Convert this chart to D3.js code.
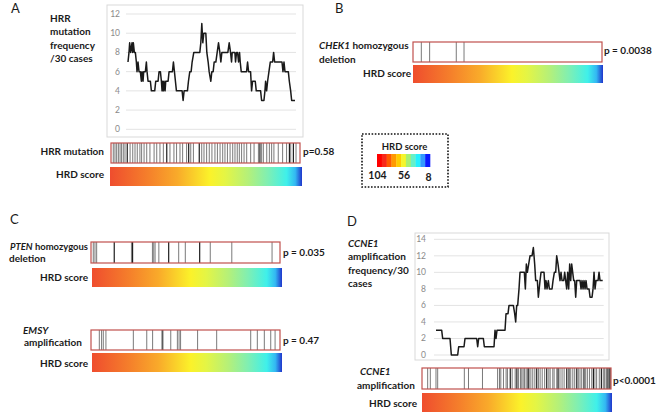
<!DOCTYPE html>
<html><head><meta charset="utf-8">
<script src="https://cdn.jsdelivr.net/npm/d3@7"></script>
<style>html,body{margin:0;padding:0;background:#fff}svg{display:block}text{font-family:Lato,"Open Sans",sans-serif}</style>
</head><body><svg id="c" width="658" height="415"></svg>
<script>
// ---------- DATA ----------
// rolling frequency per 30 cases, cases ranked by HRD score (rank 0..500 along axis)
const hrrFreq = [[0,7],[3,8],[5,9],[8,8],[12,9],[14,8],[16,9],[19,8],[22,8],[25,7],[27,6],[30,7],[33,6],[37,6],[40,5],[42,6],[45,5],[47,6],[52,6],[55,7],[57,6],[60,5],[67,5],[70,4],[80,4],[83,5],[90,5],[93,6],[97,6],[100,5],[102,4],[104,5],[106,4],[108,5],[111,4],[113,5],[120,5],[123,6],[133,6],[136,7],[139,6],[142,5],[145,4],[162,4],[165,3],[168,4],[178,4],[181,5],[185,6],[189,6],[192,7],[197,8],[215,8],[218,9],[221,11],[224,9],[227,10],[233,10],[236,8],[240,7],[243,6],[248,5],[251,6],[255,6],[258,7],[263,7],[267,8],[271,9],[275,8],[278,7],[281,8],[299,8],[303,9],[307,8],[310,7],[312,8],[320,8],[322,7],[325,8],[328,8],[331,7],[334,8],[336,7],[339,6],[355,6],[358,7],[361,6],[367,6],[370,4],[373,5],[381,5],[384,4],[397,4],[400,3],[407,3],[410,4],[412,5],[415,4],[418,5],[422,6],[426,7],[433,7],[436,8],[439,7],[461,7],[464,6],[467,7],[470,6],[480,6],[483,5],[487,4],[490,3],[500,3]];
const ccne1Freq = [[0,3],[17,3],[20,2],[42,2],[46,0],[65,0],[68,1],[84,1],[87,2],[122,2],[125,1],[128,2],[142,2],[145,1],[174,1],[177,3],[180,2],[183,3],[207,3],[210,5],[216,5],[219,6],[232,6],[236,5],[239,4],[242,6],[245,6],[249,8],[252,10],[265,10],[268,8],[271,11],[274,10],[278,11],[282,12],[288,12],[292,13],[296,11],[299,9],[304,9],[307,7],[312,9],[315,10],[324,10],[327,8],[330,9],[333,8],[337,9],[340,8],[348,8],[351,9],[355,10],[359,10],[362,12],[366,11],[369,10],[372,9],[375,10],[378,9],[383,9],[386,10],[389,9],[392,8],[395,10],[398,8],[401,11],[404,9],[407,11],[410,10],[413,9],[416,9],[419,7],[422,9],[432,9],[435,8],[438,9],[441,8],[444,9],[447,8],[450,9],[453,8],[459,8],[462,7],[468,7],[471,8],[474,10],[477,8],[480,9],[486,9],[489,10],[492,9],[500,9]];
const hrrYTicks = [0,2,4,6,8,10,12];
const ccne1YTicks = [0,2,4,6,8,10,12,14];

// case positions (percent rank by HRD score, high -> low)
const hrrMutRanks = [1.2,2.1,3.0,3.9,4.8,5.6,6.5,7.4,8.6,10.1,11.5,12.7,13.9,15.3,16.2,17.5,18.9,20.6,22.8,24.2,25.9,27.7,29.5,31.2,33.3,34.7,36.5,37.9,40.0,41.1,42.2,43.6,46.7,48.0,49.2,50.6,52.0,53.4,55.0,56.3,57.7,59.1,60.3,61.6,63.0,64.4,65.6,66.8,67.9,69.1,70.4,71.8,73.9,75.7,78.0,78.8,79.7,80.6,82.4,83.8,85.0,86.2,88.5,90.8,92.9,94.4,95.1,96.5,97.9];
const hrrMutMulti = [8.6,29.5,41.1,46.7,78.8,94.4,96.5];
const chek1Ranks = [4.4,8.8,22.9,27.0];
const chek1Multi = [];
const ptenRanks = [1.2,2.1,3.0,12.3,21.4,22.0,32.5,33.2,33.9,35.9,41.1,46.4,49.9,57.5,63.1,74.5,95.8];
const ptenMulti = [12.3,22.0,41.1,57.5];
const emsyRanks = [4.4,5.6,6.5,7.9,22.4,29.5,32.6,37.7,38.1,42.2,45.7,46.6,47.4,56.4,66.5,84.5,88.0,91.7,95.1,97.4];
const emsyMulti = [37.7];
const ccne1AmpRanks = [3.0,4.4,7.4,8.3,22.4,24.6,32.0,40.0,41.0,41.7,43.1,44.5,45.2,46.7,47.7,49.3,50.2,51.1,52.1,52.8,53.5,54.2,55.1,55.8,56.5,57.6,58.6,59.7,60.7,61.6,62.5,63.6,64.9,66.0,67.1,67.8,69.2,69.9,71.3,72.0,73.0,74.1,75.2,76.6,77.5,78.0,78.7,79.8,80.8,81.9,82.7,83.6,84.5,85.7,86.6,87.5,88.6,89.8,90.7,91.5,92.4,93.8,94.9,95.9,96.5,97.4,97.7,98.4,99.1,99.5];
const ccne1AmpMulti = [46.7,50.2,56.5,60.7,66.0,72.0,76.6,81.9,85.7,90.7,94.9,98.4,99.5];

const hrdGradOffsets = [0,0.2,0.35,0.52,0.6,0.72,0.82,0.92,0.965,1];
const hrdGradColors = ["#ef4d2e","#f5802b","#f9aa2a","#fbf22a","#e4f545","#b4f07a","#80efb2","#3ff0ea","#33b8f2","#2036cc"];
const legendColors = ["#ff0000","#f8281a","#ff5a00","#ff9900","#ffcc00","#f5f52a","#a8f070","#66f0c8","#22f0ff","#3399ff","#0a1aff"];
const legendLabels = ["104","56","8"];

// ---------- DRAW ----------
const svg = d3.select("#c");
svg.append("rect").attr("width",658).attr("height",415).attr("fill","#fff");
const defs = svg.append("defs");
const grad = defs.append("linearGradient").attr("id","hrd").attr("x1","0%").attr("x2","100%").attr("y1","0%").attr("y2","0%");
hrdGradOffsets.forEach((o,i)=>grad.append("stop").attr("offset",o).attr("stop-color",hrdGradColors[i]));

const txtCol = "#1a1a1a";
function label(x,y,parts,anchor,size,maxW){
  const t = svg.append("text").attr("x",x).attr("y",y).attr("text-anchor",anchor||"start")
    .attr("font-size",size||10).attr("font-weight",700).attr("fill",txtCol);
  parts.forEach(p=>{
    const s = t.append("tspan").text(p.t);
    if(p.i) s.attr("font-style","italic");
  });
  if(maxW){
    const w = t.node().getComputedTextLength();
    if(w>maxW) t.attr("textLength",maxW).attr("lengthAdjust","spacingAndGlyphs");
  }
  return t;
}
function panelLetter(x,y,s){
  svg.append("text").attr("x",x).attr("y",y).attr("font-size",13).attr("fill",txtCol).text(s);
}
function lineChart(frame, xr, yr, data, ticks, labelX){
  svg.append("rect").attr("x",frame[0]).attr("y",frame[1]).attr("width",frame[2]-frame[0]).attr("height",frame[3]-frame[1])
    .attr("fill","#fff").attr("stroke","#d9d9d9").attr("stroke-width",1);
  const x = d3.scaleLinear().domain([0,500]).range(xr);
  const y = d3.scaleLinear().domain([0,d3.max(ticks)]).range(yr);
  const g = svg.append("g");
  g.selectAll("line.grid").data(ticks).join("line").attr("class","grid")
    .attr("x1",xr[0]-2).attr("x2",xr[1]+1).attr("y1",d=>y(d)).attr("y2",d=>y(d))
    .attr("stroke","#e3e3e3").attr("stroke-width",1);
  g.selectAll("text").data(ticks).join("text").attr("x",labelX).attr("y",d=>y(d)+3)
    .attr("text-anchor","end").attr("font-size",8.5).attr("fill","#8a8a8a").text(d=>d);
  g.append("path").datum(data).attr("fill","none").attr("stroke","#1a1a1a").attr("stroke-width",1.5)
    .attr("stroke-linejoin","round")
    .attr("d",d3.line().x(d=>x(d[0])).y(d=>y(d[1])));
}
function strip(x0,x1,y0,y1,ranks,multi){
  const x = d3.scaleLinear().domain([0,100]).range([x0,x1]);
  const g = svg.append("g");
  g.selectAll("line").data(ranks).join("line")
    .attr("x1",d=>x(d)).attr("x2",d=>x(d)).attr("y1",y0).attr("y2",y1)
    .attr("stroke",d=>multi.includes(d)?"#1e1e1e":"#7a7a7a").attr("stroke-width",d=>multi.includes(d)?1.2:1);
  g.append("rect").attr("x",x0).attr("y",y0).attr("width",x1-x0).attr("height",y1-y0)
    .attr("fill","none").attr("stroke","#c0504d").attr("stroke-width",1.2);
}
function gradBar(x0,x1,y0,y1){
  svg.append("rect").attr("x",x0).attr("y",y0).attr("width",x1-x0).attr("height",y1-y0).attr("fill","url(#hrd)");
}

// Panel A
panelLetter(11,13,"A");
[["HRR"],["mutation"],["frequency"],["/30 cases"]].forEach((l,i)=>label(50,21.5+i*13.5,[{t:l[0]}]));
lineChart([107,5,303,137],[128,295],[129.3,14],hrrFreq,hrrYTicks,120);
label(104,155,[{t:"HRR mutation"}],"end");
strip(111,300,143,163,hrrMutRanks,hrrMutMulti);
label(303,155,[{t:"p=0.58"}]);
label(104,178,[{t:"HRD score"}],"end");
gradBar(110,302,167,186);

// Panel B
panelLetter(335,13,"B");
label(319,49,[{t:"CHEK1",i:true},{t:" homozygous"}],"start",10,90);
label(319,63,[{t:"deletion"}]);
strip(413,602,42,62,chek1Ranks,chek1Multi);
label(604,54,[{t:"p = 0.0038"}]);
label(411,77,[{t:"HRD score"}],"end");
gradBar(413,603,65,83);

// Legend
svg.append("rect").attr("x",362).attr("y",134).attr("width",86).attr("height",53)
  .attr("fill","none").attr("stroke","#111").attr("stroke-width",1.6).attr("stroke-dasharray","1.6,1.6");
label(404.5,150,[{t:"HRD score"}],"middle",9.5);
const lx = d3.scaleBand().domain(d3.range(legendColors.length)).range([377,430]);
svg.append("g").selectAll("rect").data(legendColors).join("rect")
  .attr("x",(d,i)=>lx(i)).attr("y",154).attr("width",lx.bandwidth()+0.3).attr("height",13).attr("fill",d=>d);
label(377.5,179,[{t:legendLabels[0]}],"middle",10.5);
label(404,179,[{t:legendLabels[1]}],"middle",10.5);
label(428.5,180.5,[{t:legendLabels[2]}],"middle",10.5);

// Panel C
panelLetter(10,224,"C");
label(10,250,[{t:"PTEN",i:true},{t:" homozygous"}],"start",10,78);
label(9,262,[{t:"deletion"}]);
strip(91,280,242,263,ptenRanks,ptenMulti);
label(283,256,[{t:"p = 0.035"}]);
label(88,280.5,[{t:"HRD score"}],"end");
gradBar(92,282,268,287);

label(23,333.5,[{t:"EMSY",i:true}]);
label(24,346,[{t:"amplification"}]);
strip(91,280,330,350,emsyRanks,emsyMulti);
label(283,344,[{t:"p = 0.47"}]);
label(88,367,[{t:"HRD score"}],"end");
gradBar(92,282,353,372);

// Panel D
panelLetter(347,225.5,"D");
label(348,246.5,[{t:"CCNE1",i:true}]);
label(348,260,[{t:"amplification"}]);
label(348,273.5,[{t:"frequency/30"}]);
label(348,287,[{t:"cases"}]);
lineChart([415,233,609,360],[436,602.7],[355,239.3],ccne1Freq,ccne1YTicks,426);
label(360,375,[{t:"CCNE1",i:true}]);
label(357,389,[{t:"amplification"}]);
strip(422,611,368,389,ccne1AmpRanks,ccne1AmpMulti);
label(613,384,[{t:"p<0.0001"}]);
label(417,406.5,[{t:"HRD score"}],"end");
gradBar(422,612,393,412);
</script></body></html>
